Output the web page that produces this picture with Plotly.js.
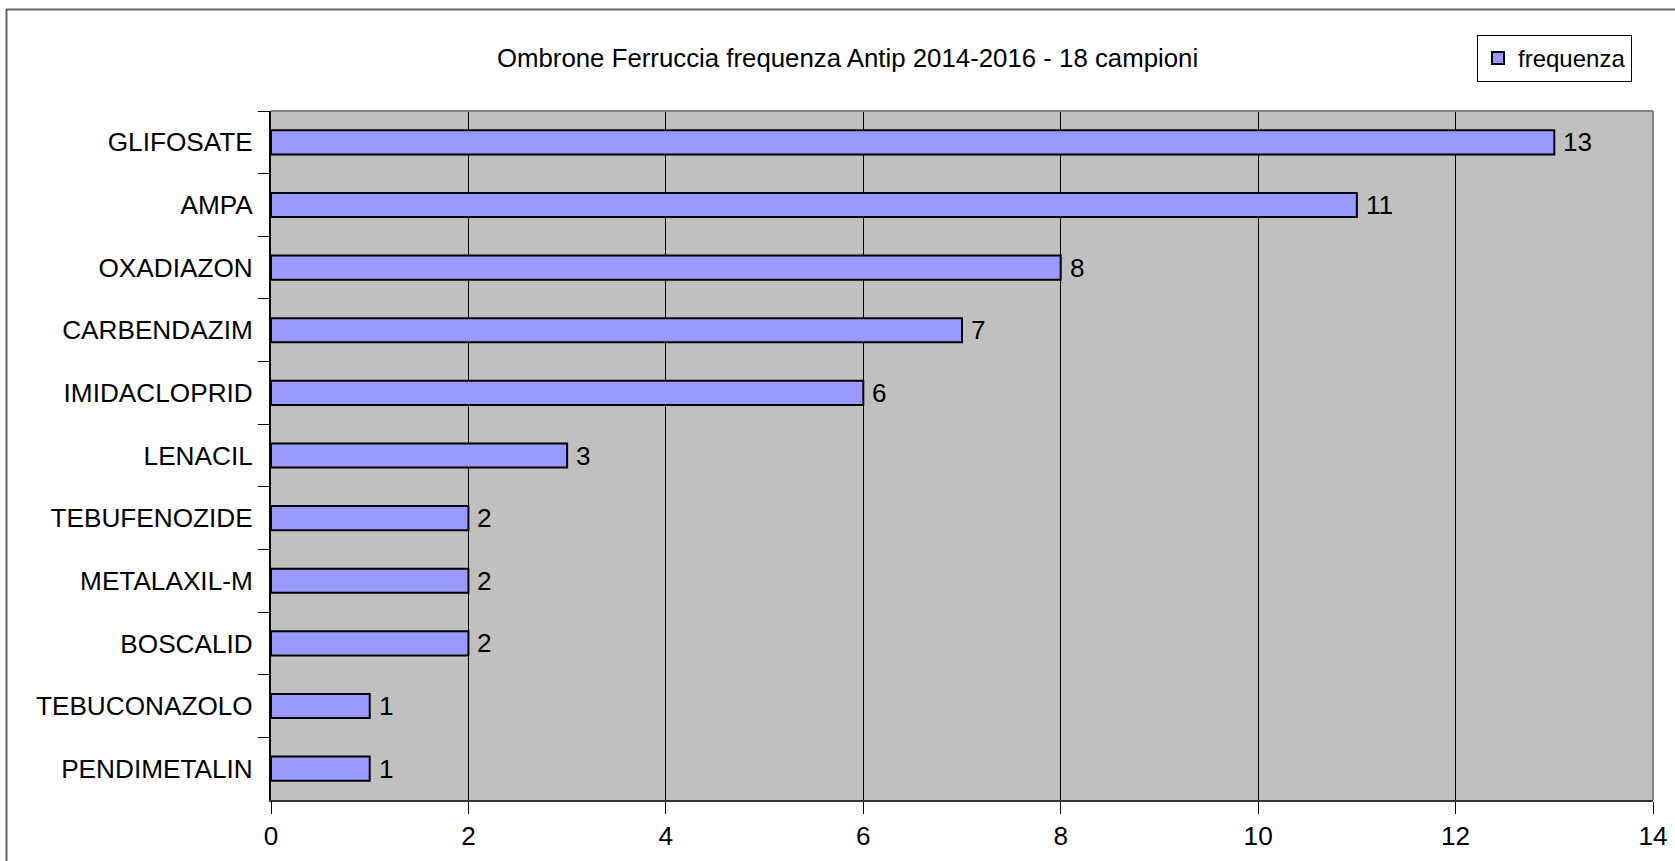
<!DOCTYPE html>
<html>
<head>
<meta charset="utf-8">
<script src="https://cdn.plot.ly/plotly-3.0.1.min.js"></script>
<style>html,body{margin:0;padding:0;background:#fff;}#chart{width:1675px;height:861px;}</style>
</head>
<body>
<div id="chart"></div>
<script>
const categories = ["GLIFOSATE","AMPA","OXADIAZON","CARBENDAZIM","IMIDACLOPRID","LENACIL","TEBUFENOZIDE","METALAXIL-M","BOSCALID","TEBUCONAZOLO","PENDIMETALIN"];
const frequenza = [13, 11, 8, 7, 6, 3, 2, 2, 2, 1, 1];
const xTicks = [0, 2, 4, 6, 8, 10, 12, 14];
const chartTitle = "Ombrone Ferruccia frequenza Antip 2014-2016 - 18 campioni";
const seriesName = "frequenza";

const FONT = "Liberation Sans, Arial, sans-serif";
const FS = 26.2;

const trace = {
  type: "bar",
  orientation: "h",
  name: seriesName,
  x: frequenza,
  y: categories,
  width: 0.385,
  marker: {color: "#9999FF", line: {color: "#000000", width: 2}},
  hoverinfo: "x+y",
  showlegend: true
};

const annotations = frequenza.map((v, i) => ({
  x: v, y: categories[i], xref: "x", yref: "y",
  text: String(v), showarrow: false, xanchor: "left", yanchor: "middle",
  xshift: 7, font: {family: FONT, size: FS, color: "#000"}
}));

const layout = {
  width: 1675, height: 861,
  margin: {l: 271, r: 22, t: 111, b: 61, pad: 0},
  paper_bgcolor: "#ffffff",
  plot_bgcolor: "#C0C0C0",
  font: {family: FONT, size: FS, color: "#000"},
  title: {
    text: chartTitle,
    font: {family: FONT, size: 25.8, color: "#000"},
    xref: "container", yref: "container",
    x: 0.506, y: 1 - 57.5/861, xanchor: "center", yanchor: "middle"
  },
  xaxis: {
    range: [0, 14],
    tickvals: xTicks,
    ticktext: xTicks.map(String),
    showgrid: true, gridcolor: "#000000", gridwidth: 1,
    zeroline: false,
    showline: true, linecolor: "#333333", linewidth: 2,
    ticks: "outside", ticklen: 12, tickcolor: "#000", tickwidth: 1,
    tickfont: {family: FONT, size: FS, color: "#000"},
    fixedrange: true
  },
  yaxis: {
    type: "category",
    categoryorder: "array",
    categoryarray: categories,
    autorange: "reversed",
    showgrid: false, zeroline: false,
    showline: true, linecolor: "#000000", linewidth: 2,
    ticks: "outside", ticklen: 11, tickcolor: "#000", tickwidth: 1,
    tickson: "boundaries",
    ticklabelstandoff: 11,
    tickfont: {family: FONT, size: FS, color: "#000"},
    fixedrange: true
  },
  legend: {
    x: (1632 - 271) / 1382, y: (800 - 35) / 689,
    xref: "paper", yref: "paper",
    xanchor: "right", yanchor: "top",
    bgcolor: "#ffffff", bordercolor: "#000000", borderwidth: 1,
    font: {family: FONT, size: 24, color: "#000"},
    itemwidth: 30
  },
  annotations: annotations,
  shapes: [
    {type: "line", xref: "paper", yref: "paper", x0: 0, x1: 1, y0: 1, y1: 1,
     line: {color: "#808080", width: 2}, layer: "above"},
    {type: "line", xref: "paper", yref: "paper", x0: 1, x1: 1, y0: 0, y1: 1,
     line: {color: "#808080", width: 2}, layer: "above"},
    {type: "rect", xref: "paper", yref: "paper",
     x0: (6.5 - 271) / 1382, x1: 2, y0: -1, y1: (800 - 9.5) / 689,
     line: {color: "#666666", width: 2}, fillcolor: "rgba(0,0,0,0)", layer: "above"}
  ],
  bargap: 0.6,
  showlegend: true
};

Plotly.newPlot("chart", [trace], layout, {displayModeBar: false, staticPlot: true});
</script>
</body>
</html>
